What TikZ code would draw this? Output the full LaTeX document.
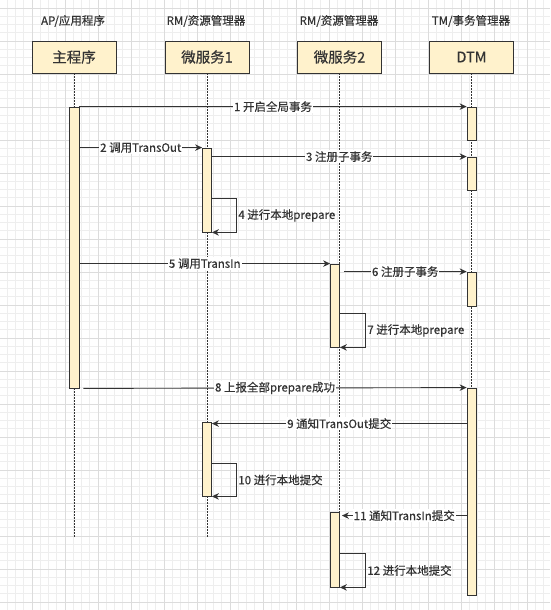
\documentclass[tikz,border=0pt]{standalone}
\usepackage{fontspec}
\setmainfont{Noto Sans CJK SC}[FakeBold=0.35]
\usepackage{tikz}
\usetikzlibrary{arrows.meta}
\definecolor{boxfill}{HTML}{FFF2CC}
\definecolor{inkgray}{HTML}{333333}
\definecolor{gridminor}{HTML}{EEEEEE}
\definecolor{gridmajor}{HTML}{DCDCDC}
\tikzset{
    grid minor/.style={draw=gridminor, line width=0.6pt},
    grid major/.style={draw=gridmajor, line width=0.8pt},
    header label/.style={inner sep=0pt, text=inkgray, font=\fontsize{11.5}{13}\selectfont},
    actor box/.style={rectangle, draw=inkgray, line width=0.8pt, fill=boxfill, minimum width=84pt, minimum height=32pt, text=inkgray, font=\fontsize{14.5}{16}\selectfont},
    activation bar/.style={rectangle, draw=inkgray, line width=0.8pt, fill=boxfill, minimum width=9pt, inner sep=0pt},
    life line/.style={draw=inkgray, line width=0.9pt, dash pattern=on 1.5pt off 1.5pt},
    msg line/.style={draw=inkgray, line width=0.9pt, -{Stealth[length=7pt,width=6.5pt]}},
    msg label/.style={fill=white, inner sep=1pt, text=inkgray, font=\fontsize{11.5}{13}\selectfont},
    loop label/.style={msg label, fill=none, anchor=west}
}

\begin{document}
\begin{tikzpicture}[x=1pt, y=-1pt]
	\useasboundingbox (0,0) rectangle (550,610);
	\clip (0,0) rectangle (550,610);
	\fill[white] (0,0) rectangle (550,610);
	\foreach \gx in {0,...,67}
		\draw[grid minor] (-1+8.25*\gx,0) -- ++(0,610);
	\foreach \gy in {0,...,74}
		\draw[grid minor] (0,-0.25+8.25*\gy) -- ++(550,0);
	\foreach \gx in {0,...,17}
		\draw[grid major] (-1+33*\gx,0) -- ++(0,610);
	\foreach \gy in {0,...,18}
		\draw[grid major] (0,8+33*\gy) -- ++(550,0);

	\node[header label] (aphead) at (73,21) {AP/应用程序};
	\node[header label] (s1head) at (206,21) {RM/资源管理器};
	\node[header label] (s2head) at (339,21) {RM/资源管理器};
	\node[header label] (tmhead) at (471,21) {TM/事务管理器};

	\node[actor box] (apbox) at (74,57) {主程序};
	\node[actor box] (s1box) at (207,57) {微服务1};
	\node[actor box] (s2box) at (339.5,57) {微服务2};
	\node[actor box] (dtmbox) at (471.5,57) {DTM};

	\draw[life line] (apbox.south) -- (apbox.south |- 0,537);
	\draw[life line] (s1box.south) -- (s1box.south |- 0,537);
	\draw[life line] (s2box.south) -- (s2box.south |- 0,587);
	\draw[life line] (dtmbox.south) -- (dtmbox.south |- 0,595);

	\node[activation bar, minimum width=10pt, minimum height=281pt] (apact) at (74,247.5) {};
	\node[activation bar, minimum height=84pt] (s1act1) at (207,190) {};
	\node[activation bar, minimum height=74pt] (s1act2) at (207,459) {};
	\node[activation bar, minimum height=83pt] (s2act1) at (335,305.5) {};
	\node[activation bar, minimum height=75pt] (s2act2) at (335,549.5) {};
	\node[activation bar, minimum height=33pt] (dtmact1) at (471.5,123.5) {};
	\node[activation bar, minimum height=33pt] (dtmact2) at (471.5,173.5) {};
	\node[activation bar, minimum height=34pt] (dtmact3) at (471.5,289) {};
	\node[activation bar, minimum height=207pt] (dtmact4) at (471.5,491.5) {};

	\draw[msg line] (apact.north east) -- node[msg label]{1 开启全局事务} (dtmact1.north west);
	\draw[msg line] (apact.east |- s1act1.north) -- node[msg label]{2 调用TransOut} (s1act1.north west);
	\draw[msg line] (s1act1.east |- dtmact2.north) -- node[msg label]{3 注册子事务} (dtmact2.north west);
	\draw[msg line] ([yshift=34pt]s1act1.south east) -- ++(25,0) |- node[loop label, pos=0.25]{4 进行本地prepare} (s1act1.south east);
	\draw[msg line] (apact.east |- s2act1.north) -- node[msg label]{5 调用TransIn} (s2act1.north west);
	\draw[msg line] ([xshift=4pt]s2act1.east |- dtmact3.north) -- node[msg label]{6 注册子事务} (dtmact3.north west);
	\draw[msg line] ([yshift=34pt]s2act1.south east) -- ++(26,0) |- node[loop label, pos=0.25]{7 进行本地prepare} (s2act1.south east);
	\draw[msg line] ([xshift=4pt]apact.south east) -- node[msg label]{8 上报全部prepare成功} (dtmact4.north west);
	\draw[msg line] ([yshift=-2pt]dtmact4.west |- s1act2.north) -- node[msg label]{9 通知TransOut提交} ([yshift=-2pt]s1act2.north east);
	\draw[msg line] ([yshift=33pt]s1act2.south east) -- ++(25,0) |- node[loop label, pos=0.25]{10 进行本地提交} (s1act2.south east);
	\draw[msg line] ([yshift=-4pt]dtmact4.west |- s2act2.north) -- node[msg label]{11 通知TransIn提交} ([xshift=2pt,yshift=-4pt]s2act2.north east);
	\draw[msg line] ([yshift=34pt]s2act2.south east) -- ++(26,0) |- node[loop label, pos=0.25]{12 进行本地提交} (s2act2.south east);
\end{tikzpicture}
\end{document}
